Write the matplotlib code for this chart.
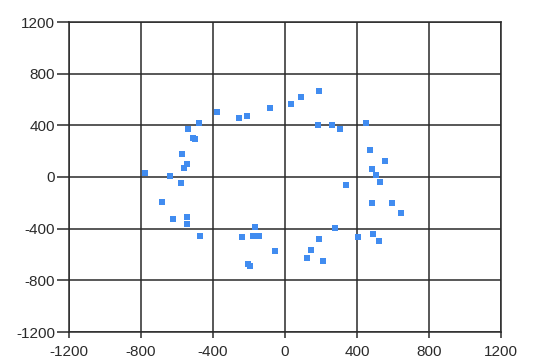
import matplotlib
matplotlib.use('Agg')
import matplotlib.pyplot as plt
import numpy as np

plt.rcParams.update({'font.family': ['Liberation Sans', 'DejaVu Sans'],
                     'axes.unicode_minus': False})

# points
xs = [-778, -639, -574, -559, -546, -541, -509, -500, -478, -376,
      -256, -211, -81, 31, 89, 187, 183, 261, 306, 448,
      470, 556, 481, 507, 528, 339, 483, 593, 646, 280,
      406, 487, 520, 189, 144, 120, 213, -57, -576, -683,
      -622, -543, -543, -472, -241, -167, -179, -143, -207, -194]
ys = [29, 8, 176, 70, 98, 370, 305, 297, 419, 501,
      455, 470, 532, 566, 622, 669, 401, 405, 372, 421,
      209, 124, 62, 13, -39, -62, -204, -204, -282, -398,
      -465, -442, -496, -478, -566, -630, -649, -576, -49, -196,
      -326, -310, -367, -455, -468, -390, -457, -457, -674, -690]
ticks = [-1200, -800, -400, 0, 400, 800, 1200]

fig = plt.figure(figsize=(5.33, 3.58), dpi=100)
ax = fig.add_axes([69/533, 1 - 332/358, (501 - 69)/533, (332 - 22)/358])

ax.scatter(xs, ys, marker='s', s=22, color='#418CF0', linewidths=0, zorder=3)

ax.set_xlim(-1200, 1200)
ax.set_ylim(-1200, 1200)
ax.set_xticks(ticks)
ax.set_yticks(ticks)
ax.grid(True, color='#2a2a2a', linewidth=1.1)
for s in ax.spines.values():
    s.set_color('#2a2a2a')
    s.set_linewidth(1.1)
ax.tick_params(axis='y', length=8.5, width=1.1, color='#2a2a2a', pad=1.5,
               labelsize=11, labelcolor='#2b2b2b')
ax.tick_params(axis='x', length=4.5, width=1.1, color='#2a2a2a', pad=4.5,
               labelsize=11, labelcolor='#2b2b2b')

fig.savefig('out.png', dpi=100)
